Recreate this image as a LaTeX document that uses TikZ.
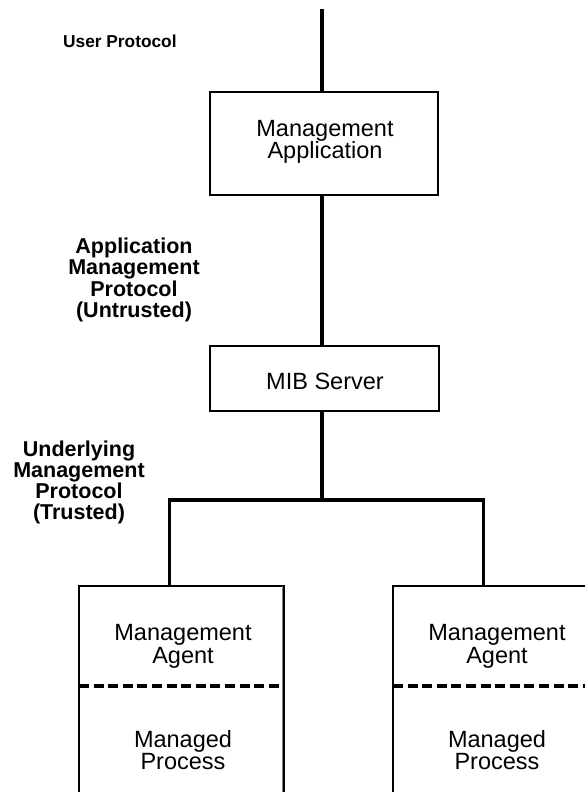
\documentclass[tikz,border=0pt]{standalone}
\usepackage{fontspec}
\setmainfont{Liberation Sans}
\begin{document}
\begin{tikzpicture}[x=1pt,y=-1pt,
  box/.style={draw, line width=1.6pt, inner sep=0pt, outer sep=0pt},
  boxtext/.style={font=\fontsize{23.5}{22.7}\selectfont, align=center, inner sep=0pt},
  lbl/.style={font=\bfseries\fontsize{21.5}{21.2}\selectfont, align=center, inner sep=0pt},
  wire/.style={line width=3.6pt},
  dashline/.style={line width=3.3pt, dash pattern=on 10pt off 4.6pt}
]
\useasboundingbox (0,0) rectangle (585,792);
\clip (0,0) rectangle (585,792);

% boxes
\node[box, minimum width=228pt, minimum height=103pt] (app) at (324,143.5) {};
\node[box, minimum width=229pt, minimum height=65pt] (mib) at (324.5,378.5) {};
\node[box, minimum width=205pt, minimum height=314pt] (stackL) at (181.5,743) {};
\node[box, minimum width=205pt, minimum height=314pt] (stackR) at (495.5,743) {};
\draw[gray, line width=0.6pt] ([xshift=-1.7pt]stackL.north east) -- ([xshift=-1.7pt]stackL.south east);

% agent / process split
\draw[dashline] (stackL.west |- 0,686) -- (stackL.east |- 0,686);
\draw[dashline] (stackR.west |- 0,686) -- (stackR.east |- 0,686);

% box texts
\node[boxtext] (apptext) at (325,142) {Management\\Application};
\node[boxtext] (mibtext) at (325,381) {MIB Server};
\node[boxtext] (agentL) at (183,646.5) {Management\\Agent};
\node[boxtext] (procL) at (183,750) {Managed\\Process};
\node[boxtext] (agentR) at (497,646.5) {Management\\Agent};
\node[boxtext] (procR) at (497,750) {Managed\\Process};

% protocol labels
\node[font=\bfseries\fontsize{17.3}{18}\selectfont, anchor=base west, inner sep=0pt] (userp) at (63,48) {User Protocol};
\node[lbl] (appp) at (134,280) {Application\\Management\\Protocol\\(Untrusted)};
\node[lbl] (undp) at (79,482.5) {Underlying\\Management\\Protocol\\(Trusted)};

% connectors
\coordinate (top) at (322,9.5);
\coordinate (fork) at (322,500);
\coordinate (forkL) at (169.5,500);
\coordinate (forkR) at (483.5,500);
\draw[wire] (top) -- (top |- app.north);
\draw[wire] (top |- app.south) -- (top |- mib.north);
\draw[wire] (top |- mib.south) -- (fork);
\draw[wire] (forkL |- stackL.north) -- (forkL) -- (forkR) -- (forkR |- stackR.north);
\end{tikzpicture}
\end{document}
